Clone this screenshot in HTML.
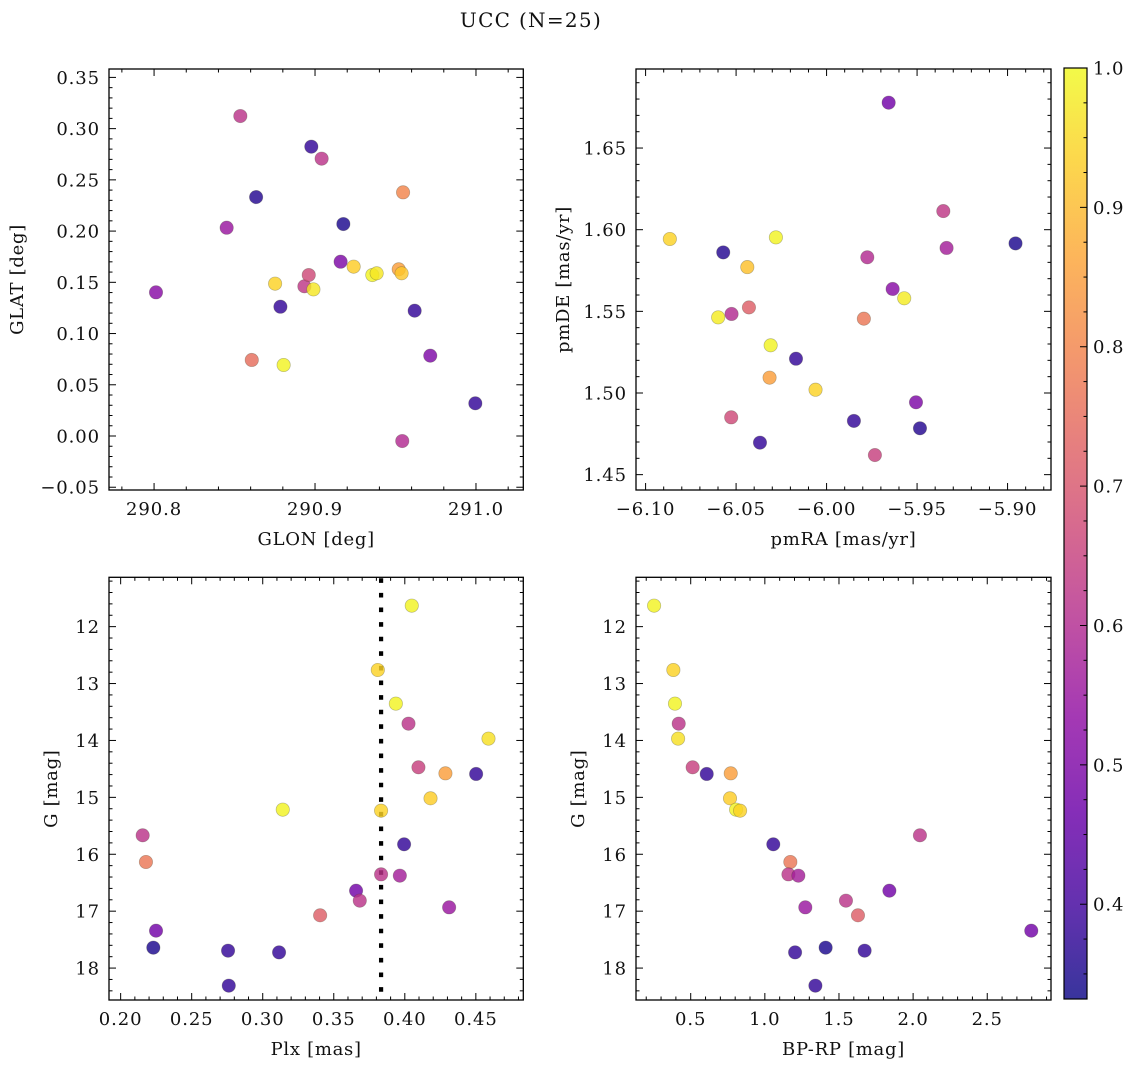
<!DOCTYPE html>
<html><head><meta charset="utf-8"><style>
html,body{margin:0;padding:0;background:#fff;}
svg{display:block;font-family:"DejaVu Serif","Liberation Serif",serif;}
</style></head><body>
<svg id="fig" width="1136" height="1067" viewBox="0 0 1136 1067" xmlns="http://www.w3.org/2000/svg">
<text x="531" y="27" font-size="20" letter-spacing="1.3" text-anchor="middle" fill="#111">UCC (N=25)</text>
</svg>
<script>
// ---- data ----
const glon = [290.8012,290.8536,290.8451,290.8634,290.8607,290.8752,290.8785,290.8805,290.8934,290.8961,290.8990,290.8977,290.9041,290.9176,290.9159,290.9240,290.9356,290.9383,290.9520,290.9538,290.9547,290.9542,290.9619,290.9716,290.9996];
const glat = [0.1402,0.3123,0.2033,0.2332,0.0742,0.1487,0.1262,0.0693,0.1461,0.1571,0.1431,0.2824,0.2707,0.2069,0.1701,0.1653,0.1571,0.1588,0.1627,0.1588,0.2378,-0.0049,0.1223,0.0784,0.0319];
const probTL = [0.52,0.62,0.55,0.36,0.75,0.94,0.38,0.99,0.63,0.67,0.97,0.38,0.62,0.35,0.50,0.93,0.99,0.97,0.85,0.92,0.80,0.60,0.38,0.50,0.38];

const pmra = [-6.0866,-6.0571,-6.0280,-6.0438,-5.9775,-5.9657,-5.9355,-5.9337,-5.8956,-5.9635,-5.9571,-5.9794,-6.0599,-6.0525,-6.0429,-6.0309,-6.0169,-6.0315,-6.0061,-5.9506,-6.0527,-5.9849,-5.9484,-6.0368,-5.9733];
const pmde = [1.5943,1.5861,1.5953,1.5771,1.5831,1.6778,1.6114,1.5888,1.5916,1.5637,1.5580,1.5455,1.5463,1.5484,1.5524,1.5292,1.5210,1.5094,1.5020,1.4943,1.4851,1.4829,1.4784,1.4696,1.4620];
const probTR = [0.94,0.36,0.99,0.91,0.60,0.48,0.63,0.57,0.35,0.52,0.98,0.77,0.98,0.60,0.72,0.99,0.38,0.85,0.94,0.50,0.67,0.38,0.36,0.38,0.65];

const plx = [0.4049,0.3810,0.3937,0.4026,0.4589,0.4096,0.4286,0.4502,0.4181,0.3141,0.3833,0.2155,0.2178,0.3995,0.3833,0.3965,0.3657,0.3683,0.3404,0.4312,0.2249,0.2230,0.2756,0.3115,0.2761];
const gmagBL = [11.631,12.762,13.353,13.705,13.968,14.472,14.578,14.589,15.017,15.216,15.234,15.667,16.136,15.825,16.353,16.376,16.640,16.815,17.073,16.933,17.343,17.641,17.694,17.724,18.309];
const probBL = [0.99,0.94,0.99,0.62,0.96,0.65,0.85,0.38,0.93,0.99,0.94,0.62,0.77,0.38,0.62,0.57,0.48,0.62,0.72,0.55,0.48,0.35,0.38,0.38,0.38];

const bprp = [0.253,0.383,0.394,0.419,0.415,0.513,0.608,0.770,0.765,0.806,0.833,2.046,1.057,1.172,1.159,1.226,1.840,1.547,1.273,1.628,2.797,1.410,1.204,1.673,1.341];
const gmagBR = [11.631,12.762,13.353,13.705,13.968,14.472,14.589,14.578,15.017,15.216,15.234,15.667,15.825,16.136,16.353,16.376,16.640,16.815,16.933,17.073,17.343,17.641,17.724,17.694,18.309];
const probBR = [0.99,0.94,0.99,0.62,0.96,0.65,0.38,0.85,0.93,0.99,0.94,0.62,0.38,0.77,0.62,0.57,0.48,0.62,0.55,0.72,0.48,0.35,0.38,0.38,0.38];

const plxCut = [0.3833];
const cbarTicks = [0.4,0.5,0.6,0.7,0.8,0.9,1.0];
const vmin = 0.332, vmax = 1.0;

// ---- rendering ----
const NS = "http://www.w3.org/2000/svg";
const svg = document.getElementById('fig');
const stops = [[0,13,8,135],[0.1,65,4,157],[0.2,106,0,168],[0.3,143,13,164],[0.4,177,42,144],[0.5,204,71,120],[0.6,225,100,98],[0.7,242,132,75],[0.8,252,166,54],[0.9,252,206,37],[1,240,249,33]];
function plasma(t){
  t = Math.max(0, Math.min(1, t));
  for (let i = 1; i < stops.length; i++) {
    if (t <= stops[i][0]) {
      const a = stops[i-1], b = stops[i], f = (t - a[0]) / (b[0] - a[0]);
      return 'rgb(' + [1,2,3].map(k => Math.round(a[k] + f * (b[k] - a[k]))).join(',') + ')';
    }
  }
  return 'rgb(240,249,33)';
}
function mk(tag, attrs, parent){
  const e = document.createElementNS(NS, tag);
  for (const k in attrs) e.setAttribute(k, attrs[k]);
  (parent || svg).appendChild(e);
  return e;
}
function fmt(v, d){ const s = Math.abs(v).toFixed(d); return (v < -1e-9 ? '\u2212' : '') + s; }

function panel(cfg, xs, ys, ps){
  const g = mk('g', {});
  
  
  const sx = v => cfg.px[0] + (v - cfg.xd[0]) / (cfg.xd[1] - cfg.xd[0]) * (cfg.px[1] - cfg.px[0]);
  const sy = cfg.invert
    ? v => cfg.py[0] + (v - cfg.yd[0]) / (cfg.yd[1] - cfg.yd[0]) * (cfg.py[1] - cfg.py[0])
    : v => cfg.py[1] - (v - cfg.yd[0]) / (cfg.yd[1] - cfg.yd[0]) * (cfg.py[1] - cfg.py[0]);
  const lo = Math.min(cfg.yd[0], cfg.yd[1]), hi = Math.max(cfg.yd[0], cfg.yd[1]);
  for (let i = Math.ceil(cfg.xd[0] / cfg.xm - 1e-6); i * cfg.xm <= cfg.xd[1] + 1e-9; i++) {
    const v = i * cfg.xm, X = sx(v), major = Math.abs(i % cfg.xk) === 0, L = major ? 7 : 3.5;
    const t1 = mk('line', {x1:X, x2:X, y1:cfg.py[1], y2:cfg.py[1]-L, stroke:'#000', 'stroke-width':1}, g);
     
    mk('line', {x1:X, x2:X, y1:cfg.py[0], y2:cfg.py[0]+L, stroke:'#000', 'stroke-width':1}, g);
    if (major) {
      const t = mk('text', {x:X, y:cfg.py[1]+25, 'font-size':18, 'letter-spacing':0.9, 'text-anchor':'middle', fill:'#111'}, g);
      t.textContent = fmt(v, cfg.xdig);
      
      
    }
  }
  for (let i = Math.ceil(lo / cfg.ym - 1e-6); i * cfg.ym <= hi + 1e-9; i++) {
    const v = i * cfg.ym, Y = sy(v), major = Math.abs(i % cfg.yk) === 0, L = major ? 7 : 3.5;
    const t1 = mk('line', {x1:cfg.px[0], x2:cfg.px[0]+L, y1:Y, y2:Y, stroke:'#000', 'stroke-width':1}, g);
     
    mk('line', {x1:cfg.px[1], x2:cfg.px[1]-L, y1:Y, y2:Y, stroke:'#000', 'stroke-width':1}, g);
    if (major) {
      const t = mk('text', {x:cfg.px[0]-9, y:Y+6.5, 'font-size':18, 'letter-spacing':0.9, 'text-anchor':'end', fill:'#111'}, g);
      t.textContent = fmt(v, cfg.ydig);
      
      
    }
  }
  if (cfg.vline) {
    cfg.vline.forEach(v => {
      const l = mk('line', {x1:sx(v), x2:sx(v), y1:cfg.py[0]+1, y2:cfg.py[1], stroke:'#000', 'stroke-width':4.2, 'stroke-dasharray':'4.6 10'}, g);
      
      
    });
  }
  for (let i = 0; i < xs.length; i++) {
    const c = mk('circle', {cx:sx(xs[i]), cy:sy(ys[i]), r:6.7, fill:plasma((ps[i]-vmin)/(vmax-vmin)), 'fill-opacity':0.82, stroke:'rgba(70,70,50,0.35)', 'stroke-width':0.7}, g);
    
    
  }
  const f = mk('rect', {x:cfg.px[0], y:cfg.py[0], width:cfg.px[1]-cfg.px[0], height:cfg.py[1]-cfg.py[0], fill:'none', stroke:'#000', 'stroke-width':1.3}, g);
  
  
  const xl = mk('text', {x:(cfg.px[0]+cfg.px[1])/2, y:cfg.py[1]+55, 'font-size':18, 'letter-spacing':0.7, 'text-anchor':'middle', fill:'#111'}, g);
  xl.textContent = cfg.xlabel;
  
  
  const cy = (cfg.py[0]+cfg.py[1])/2;
  const yl = mk('text', {x:cfg.ylx, y:cy, 'font-size':18, 'letter-spacing':0.7, 'text-anchor':'middle', fill:'#111', transform:'rotate(-90 '+cfg.ylx+' '+cy+')'}, g);
  yl.textContent = cfg.ylabel;
  
  
}

panel({name:'glon-glat-panel', px:[109,523.3], py:[69,490], xd:[290.772,291.0294], yd:[-0.0527,0.3582], xm:0.02, xk:5, ym:0.01, yk:5, xdig:1, ydig:2, xlabel:'GLON [deg]', ylabel:'GLAT [deg]', ylx:23}, glon, glat, probTL);
panel({name:'proper-motion-panel', px:[636,1051], py:[69,490], xd:[-6.1053,-5.876], yd:[1.4406,1.6984], xm:0.01, xk:5, ym:0.01, yk:5, xdig:2, ydig:2, xlabel:'pmRA [mas/yr]', ylabel:'pmDE [mas/yr]', ylx:569}, pmra, pmde, probTR);
panel({name:'plx-g-panel', px:[109,523.3], py:[577.3,1000], xd:[0.1918,0.4834], yd:[11.133,18.561], invert:true, xm:0.01, xk:5, ym:0.2, yk:5, xdig:2, ydig:0, xlabel:'Plx [mas]', ylabel:'G [mag]', ylx:57, vline:plxCut}, plx, gmagBL, probBL);
panel({name:'cmd-panel', px:[636,1051], py:[577.3,1000], xd:[0.131,2.930], yd:[11.133,18.561], invert:true, xm:0.1, xk:5, ym:0.2, yk:5, xdig:1, ydig:0, xlabel:'BP-RP [mag]', ylabel:'G [mag]', ylx:584}, bprp, gmagBR, probBR);

// colorbar
(function(){
  const x0 = 1064, x1 = 1087, y0 = 68, y1 = 999;
  const g = mk('g', {});
  
  
  const defs = mk('defs', {}, g);
  const lg = mk('linearGradient', {id:'cb', x1:0, y1:1, x2:0, y2:0}, defs);
  for (let i = 0; i <= 20; i++) mk('stop', {offset:(i/20), 'stop-color':plasma(i/20), 'stop-opacity':0.82}, lg);
  const r = mk('rect', {x:x0, y:y0, width:x1-x0, height:y1-y0, fill:'url(#cb)', stroke:'#000', 'stroke-width':1.2}, g);
  
  
  const sy = v => y1 - (v - vmin) / (vmax - vmin) * (y1 - y0);
  for (let i = Math.ceil(vmin / 0.025 - 1e-6); i * 0.025 <= vmax + 1e-9; i++) {
    const v = i * 0.025, Y = sy(v), major = i % 4 === 0;
    mk('line', {x1:x1, x2:x1 - (major ? 7 : 3.5), y1:Y, y2:Y, stroke:'#000', 'stroke-width':1}, g);
  }
  cbarTicks.forEach(v => {
    const t = mk('text', {x:x1+6, y:sy(v)+6.5, 'font-size':18, 'letter-spacing':0.9, fill:'#111'}, g);
    t.textContent = v.toFixed(1);
    
    
  });
})();
</script>
</body></html>
